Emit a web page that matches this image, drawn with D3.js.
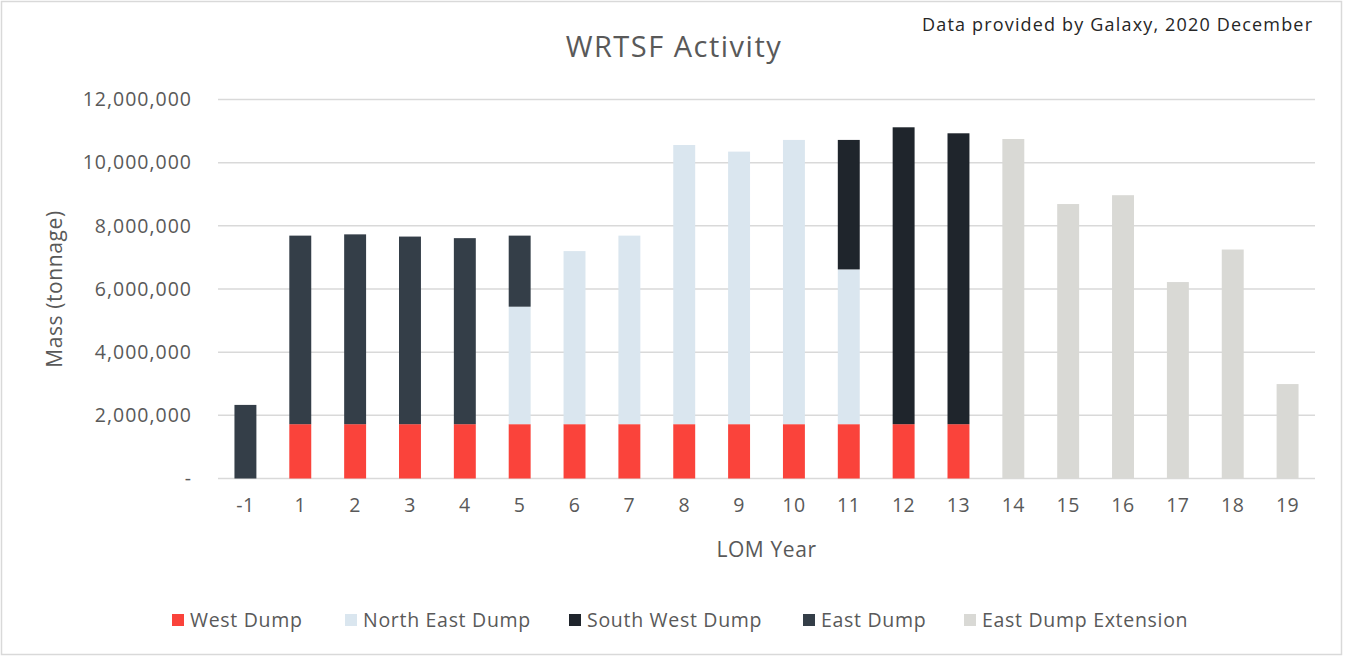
<!DOCTYPE html>
<html>
<head>
<meta charset="utf-8">
<script src="https://cdn.jsdelivr.net/npm/d3@7"></script>
<style>
  body { margin: 0; background: #fff; }
  text { font-family: "Open Sans", sans-serif; }
</style>
</head>
<body>
<script>
// data
var years = ["-1", "1", "2", "3", "4", "5", "6", "7", "8", "9", "10", "11", "12", "13", "14", "15", "16", "17", "18", "19"];
var westDump      = [0, 1720000, 1720000, 1720000, 1720000, 1720000, 1720000, 1720000, 1720000, 1720000, 1720000, 1720000, 1720000, 1720000, 0, 0, 0, 0, 0, 0];
var northEastDump = [0, 0, 0, 0, 0, 3720000, 5480000, 5970000, 8840000, 8630000, 9000000, 4900000, 0, 0, 0, 0, 0, 0, 0, 0];
var southWestDump = [0, 0, 0, 0, 0, 0, 0, 0, 0, 0, 0, 4100000, 9400000, 9210000, 0, 0, 0, 0, 0, 0];
var eastDump      = [2330000, 5970000, 6010000, 5940000, 5890000, 2250000, 0, 0, 0, 0, 0, 0, 0, 0, 0, 0, 0, 0, 0, 0];
var eastDumpExt   = [0, 0, 0, 0, 0, 0, 0, 0, 0, 0, 0, 0, 0, 0, 10750000, 8690000, 8970000, 6220000, 7250000, 2990000];
var seriesNames = ["West Dump", "North East Dump", "South West Dump", "East Dump", "East Dump Extension"];
var yTicks = [0, 2000000, 4000000, 6000000, 8000000, 10000000, 12000000];

var colors = ["#fa433b", "#dae6ef", "#1f252c", "#343e48", "#d9d9d5"];
var seriesValues = [westDump, northEastDump, southWestDump, eastDump, eastDumpExt];

var W = 1345, H = 657;
var margin = {top: 99.5, right: 30, bottom: 178.5, left: 218};
var width = W - margin.left - margin.right,
    height = H - margin.top - margin.bottom;

var svg = d3.select("body").append("svg")
    .attr("width", W)
    .attr("height", H);

// outer frame
svg.append("rect")
    .attr("x", 1.5).attr("y", 1.5)
    .attr("width", W - 5).attr("height", H - 4)
    .attr("fill", "#fff")
    .attr("stroke", "#d9d9d9")
    .attr("stroke-width", 1.5);

// table rows for the stack
var rows = years.map(function(y, i) {
  var r = {year: y};
  seriesNames.forEach(function(s, j) { r[s] = seriesValues[j][i]; });
  return r;
});
var stacked = d3.stack().keys(seriesNames)(rows);

var x = d3.scaleBand().domain(years).range([0, width]).paddingInner(0.6).paddingOuter(0.3);
var y = d3.scaleLinear().domain([0, 12000000]).range([height, 0]);

var g = svg.append("g")
    .attr("transform", "translate(" + margin.left + "," + margin.top + ")");

// gridlines
g.selectAll(".grid")
    .data(yTicks)
  .enter().append("line")
    .attr("x1", 0).attr("x2", width)
    .attr("y1", function(d) { return y(d); })
    .attr("y2", function(d) { return y(d); })
    .attr("stroke", "#d9d9d9")
    .attr("stroke-width", 1.5);

// bars
g.selectAll(".layer")
    .data(stacked)
  .enter().append("g")
    .attr("fill", function(d, i) { return colors[i]; })
  .selectAll("rect")
    .data(function(d) { return d; })
  .enter().append("rect")
    .attr("x", function(d) { return x(d.data.year); })
    .attr("width", x.bandwidth())
    .attr("y", function(d) { return y(d[1]); })
    .attr("height", function(d) { return y(d[0]) - y(d[1]); });

// y axis
var yAxis = g.append("g")
    .call(d3.axisLeft(y).tickValues(yTicks).tickSize(0).tickPadding(26)
      .tickFormat(function(d) { return d === 0 ? "-" : d3.format(",")(d); }));
yAxis.select(".domain").remove();
yAxis.selectAll("text")
    .attr("fill", "#595959")
    .style("font-size", "19.5px")
    .style("letter-spacing", "1px")
    .style("font-family", "'Open Sans', sans-serif");

// x axis
var xAxis = g.append("g")
    .attr("transform", "translate(0," + height + ")")
    .call(d3.axisBottom(x).tickSize(0).tickPadding(20));
xAxis.select(".domain").remove();
xAxis.selectAll("text")
    .attr("fill", "#595959")
    .style("font-size", "19.5px")
    .style("letter-spacing", "0.5px")
    .style("font-family", "'Open Sans', sans-serif");

// titles
svg.append("text")
    .attr("x", 674).attr("y", 57)
    .attr("text-anchor", "middle")
    .attr("fill", "#595959")
    .style("font-size", "29px")
    .style("letter-spacing", "1.5px")
    .text("WRTSF Activity");

svg.append("text")
    .attr("x", 1312).attr("y", 31)
    .attr("text-anchor", "end")
    .attr("fill", "#262626")
    .attr("textLength", 390)
    .attr("lengthAdjust", "spacing")
    .style("font-size", "18px")
    .text("Data provided by Galaxy, 2020 December");

svg.append("text")
    .attr("x", margin.left + width / 2).attr("y", 557)
    .attr("text-anchor", "middle")
    .attr("fill", "#595959")
    .style("font-size", "21px")
    .style("letter-spacing", "0.6px")
    .text("LOM Year");

svg.append("text")
    .attr("transform", "translate(62," + (margin.top + height / 2) + ") rotate(-90)")
    .attr("text-anchor", "middle")
    .attr("fill", "#595959")
    .style("font-size", "21px")
    .style("letter-spacing", "0.6px")
    .text("Mass (tonnage)");

// legend
var legendX = [172, 345, 569, 803, 964];
var legend = svg.selectAll(".legend")
    .data(seriesNames)
  .enter().append("g")
    .attr("transform", function(d, i) { return "translate(" + legendX[i] + ",620)"; });
legend.append("rect")
    .attr("x", 0).attr("y", -6)
    .attr("width", 12).attr("height", 12)
    .attr("fill", function(d, i) { return colors[i]; });
legend.append("text")
    .attr("x", 18).attr("y", 7)
    .attr("fill", "#595959")
    .style("font-size", "19.5px")
    .style("letter-spacing", "0.7px")
    .text(function(d) { return d; });
</script>
</body>
</html>
